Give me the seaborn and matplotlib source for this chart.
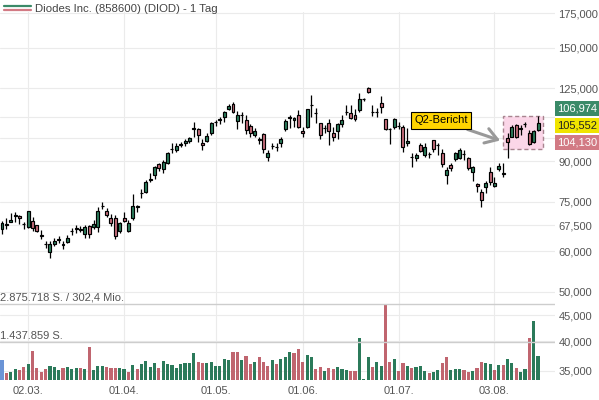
import numpy as np
import pandas as pd
import matplotlib
matplotlib.use("Agg")
import matplotlib.pyplot as plt
from matplotlib.lines import Line2D
from matplotlib.patches import Rectangle
from matplotlib.ticker import NullFormatter
import seaborn as sns

# --- data --------------------------------------------------------------------
title = "Diodes Inc. (858600) (DIOD) - 1 Tag"
first_day = "2026-02-20"
holidays = ["2026-04-03", "2026-05-25", "2026-07-03"]

open_ = [66.2, 67.8, 68.5, 70.3, 70.3, 67.9, 67.0, 68.7, 67.5, 64.6,
         62.1, 59.9, 62.1, 63.2, 61.8, 62.5, 65.8, 66.4, 66.1, 64.8,
         67.2, 66.9, 67.0, 73.5, 71.9, 69.8, 69.6, 65.8, 69.8, 65.8,
         69.6, 73.6, 77.9, 78.4, 82.8, 84.6, 88.7, 86.7, 89.4, 94.9,
         94.6, 97.0, 97.5, 98.5, 104.2, 103.9, 97.8, 98.7, 102.0, 107.2,
         108.5, 109.9, 114.0, 116.2, 108.0, 110.6, 108.3, 105.6, 101.4, 99.4,
         101.6, 91.8, 96.2, 96.1, 97.5, 103.9, 109.5, 108.3, 110.6, 103.1,
         104.8, 115.7, 112.0, 106.7, 104.5, 107.0, 102.3, 103.2, 106.2, 112.3,
         111.6, 110.8, 113.3, 118.8, 125.3, 112.5, 112.3, 116.8, 108.6, 104.0,
         104.8, 105.5, 105.1, 97.5, 91.7, 91.2, 96.8, 92.5, 93.0, 99.0,
         96.9, 93.5, 84.6, 88.5, 90.7, 91.2, 93.0, 91.2, 85.8, 81.2,
         78.4, 80.2, 85.8, 80.5, 86.7, 85.1, 99.7, 100.5, 105.9, 104.2,
         106.3, 102.3, 98.2, 103.5]
high = [68.7, 69.6, 71.2, 71.5, 70.6, 68.3, 72.0, 70.1, 67.6, 66.0,
        62.8, 62.8, 63.6, 64.3, 62.8, 64.6, 66.7, 67.5, 67.2, 67.5,
        67.5, 69.0, 73.3, 74.8, 72.8, 70.9, 70.6, 68.5, 71.5, 69.0,
        77.5, 74.0, 79.3, 82.7, 85.2, 88.1, 89.1, 90.4, 93.9, 97.5,
        97.8, 98.2, 99.3, 100.5, 107.2, 104.3, 99.3, 102.3, 107.2, 108.3,
        109.9, 112.9, 116.2, 117.3, 112.9, 112.1, 110.8, 106.2, 104.3, 100.5,
        102.0, 94.6, 97.8, 97.8, 100.2, 108.6, 110.8, 109.9, 113.3, 105.1,
        113.7, 121.2, 114.2, 107.0, 105.9, 108.6, 105.1, 106.7, 110.8, 115.9,
        115.9, 113.6, 122.1, 119.4, 125.8, 115.9, 114.2, 120.6, 108.8, 104.3,
        109.1, 107.5, 105.9, 104.3, 93.2, 93.5, 97.5, 97.5, 93.9, 99.0,
        97.5, 94.9, 87.8, 89.4, 93.9, 95.4, 94.6, 91.8, 88.1, 81.5,
        79.3, 82.4, 87.5, 83.9, 89.1, 89.1, 102.0, 105.9, 106.4, 105.9,
        107.5, 103.5, 103.5, 110.3]
low = [64.8, 66.2, 68.3, 68.3, 67.7, 66.2, 66.5, 65.7, 65.5, 63.4,
       60.8, 58.1, 61.5, 62.2, 60.6, 62.2, 64.6, 65.0, 65.3, 63.8,
       63.8, 66.2, 65.5, 72.6, 70.1, 67.3, 63.4, 65.0, 68.5, 65.5,
       69.0, 71.7, 76.1, 78.1, 82.0, 82.9, 86.2, 85.2, 88.9, 93.5,
       93.9, 95.8, 96.4, 97.5, 100.5, 98.2, 94.6, 98.0, 101.3, 105.6,
       106.2, 107.5, 113.3, 111.6, 103.9, 107.0, 101.6, 100.2, 100.5, 97.2,
       93.2, 90.2, 94.9, 94.3, 96.1, 103.2, 104.3, 105.1, 104.3, 100.2,
       104.3, 109.9, 107.0, 99.3, 102.3, 96.8, 98.7, 99.3, 105.1, 110.8,
       108.6, 108.0, 112.4, 118.1, 122.1, 110.3, 109.9, 111.6, 103.5, 97.2,
       103.9, 103.9, 93.9, 96.4, 87.5, 90.2, 93.9, 91.8, 91.2, 93.9,
       92.5, 87.8, 81.2, 86.2, 90.2, 90.7, 90.4, 86.5, 82.4, 78.4,
       73.3, 78.1, 80.8, 80.0, 86.2, 83.9, 91.3, 100.2, 99.7, 101.3,
       105.1, 96.8, 97.8, 103.3]
close = [68.0, 67.5, 69.0, 70.6, 69.6, 67.7, 71.9, 66.7, 65.8, 64.4,
         61.9, 62.0, 62.8, 63.4, 62.0, 63.8, 65.6, 66.6, 66.3, 66.9,
         64.8, 67.7, 71.9, 73.7, 70.6, 68.0, 64.3, 68.0, 68.8, 68.2,
         73.4, 73.3, 78.1, 81.9, 83.0, 87.8, 87.4, 89.8, 93.5, 95.1,
         96.4, 97.2, 98.5, 99.7, 104.4, 101.1, 96.7, 100.8, 106.7, 107.4,
         108.7, 112.1, 115.5, 112.4, 110.8, 111.0, 103.5, 102.0, 103.2, 99.2,
         94.9, 93.5, 96.4, 95.9, 99.3, 108.0, 109.7, 109.1, 105.1, 102.0,
         113.6, 115.9, 111.8, 101.3, 104.7, 103.2, 100.2, 106.4, 108.3, 112.5,
         109.4, 108.6, 118.9, 118.9, 122.7, 112.3, 112.5, 114.7, 103.9, 103.8,
         108.6, 105.3, 96.1, 98.5, 91.5, 92.5, 94.3, 95.8, 92.9, 94.9,
         96.7, 88.9, 86.5, 87.1, 93.5, 94.6, 92.9, 87.1, 87.5, 80.5,
         75.5, 81.5, 82.0, 81.7, 88.1, 85.3, 98.2, 105.1, 100.5, 104.4,
         106.5, 97.2, 103.2, 106.974]
volume = [757000, 276000, 314000, 405000, 378000, 481000, 605000, 1097000, 443000, 314000,
          405000, 518000, 503000, 390000, 443000, 481000, 416000, 443000, 443000, 405000,
          1237000, 367000, 541000, 530000, 492000, 443000, 454000, 465000, 428000, 303000,
          568000, 416000, 594000, 730000, 481000, 632000, 465000, 719000, 617000, 568000,
          465000, 605000, 632000, 632000, 1033000, 692000, 632000, 655000, 692000, 518000,
          530000, 783000, 757000, 1071000, 1048000, 757000, 908000, 594000, 692000, 859000,
          670000, 530000, 757000, 605000, 783000, 859000, 1048000, 1010000, 1162000, 692000,
          946000, 882000, 405000, 503000, 352000, 465000, 416000, 481000, 416000, 378000,
          341000, 341000, 1578000, 38000, 859000, 503000, 681000, 530000, 2875718, 692000,
          783000, 352000, 632000, 541000, 465000, 503000, 541000, 341000, 254000, 303000,
          367000, 632000, 870000, 367000, 405000, 405000, 367000, 303000, 341000, 443000,
          692000, 632000, 594000, 378000, 568000, 556000, 795000, 632000, 443000, 303000,
          416000, 1578000, 2233000, 908000]

turnover_label = "302,4 Mio."
report_label = "Q2-Bericht"
report_date = "2026-08-06"
price_tags = [106.974, 105.552, 104.130]
price_ticks = [35, 40, 45, 50, 60, 67.5, 75, 90, 125, 150, 175]
covered_ticks = [100, 110]

# --- colours ----------------------------------------------------------------
up_col, down_col = "#2d7f5e", "#c96f7d"
vol_palette = {"up": "#2b7a5a", "down": "#c0656f", "first": "#6b94d6"}
tag_colors = ["#3a8a68", "#f0e400", "#d27a84"]
tag_text = ["white", "#222222", "white"]
grid_col = "#ebebeb"
text_col = "#555555"


def de_price(v):
    return f"{v:.3f}".replace(".", ",")


def de_int(v):
    return f"{int(round(v)):,}".replace(",", ".")


sns.set_style("white")
plt.rcParams["font.family"] = ["Liberation Sans", "DejaVu Sans"]

dates = pd.bdate_range(first_day, periods=len(close), freq="C", holidays=holidays)
df = pd.DataFrame({"date": dates, "open": open_, "high": high, "low": low,
                   "close": close, "volume": volume})
df["pos"] = np.arange(len(df))
df["up"] = df["close"] >= df["open"]
chg = df["close"].diff()
df["trend"] = np.where(chg.isna(), "first", np.where(chg >= 0, "up", "down"))

fig = plt.figure(figsize=(5.99, 4.0), dpi=100)
rect = [0, 20 / 400, 555 / 599, 368 / 400]
ax = fig.add_axes(rect)
ax_vol = fig.add_axes(rect, sharex=ax)
ax_vol.patch.set_visible(False)

# volume bars
sns.barplot(data=df, x="pos", y="volume", hue="trend", palette=vol_palette,
            native_scale=True, width=0.72, dodge=False, legend=False,
            errorbar=None, saturation=1, linewidth=0, ax=ax_vol)
vmax = df["volume"].max()
ax_vol.set_ylim(0, vmax * 368 / 76)
for lvl, txt in [(vmax, f"{de_int(vmax)} S. / {turnover_label}"),
                 (vmax / 2, f"{de_int(vmax / 2)} S.")]:
    ax_vol.axhline(lvl, color="#cdcdcd", lw=1, zorder=1)
    ax_vol.annotate(txt, xy=(0, lvl), xycoords=("axes fraction", "data"),
                    xytext=(0, 6), textcoords="offset pixels", ha="left",
                    va="center", fontsize=8, color=text_col)
ax_vol.set_yticks([])
ax_vol.set_xlabel("")
ax_vol.set_ylabel("")
ax_vol.tick_params(axis="x", labelbottom=False, length=0)

# candles
body_lo = df[["open", "close"]].min(axis=1)
body_h = (df["open"] - df["close"]).abs()
colors = np.where(df["up"], up_col, down_col)
ax.vlines(df["pos"], df["low"], df["high"], color="black", lw=0.9, zorder=3)
ax.bar(df["pos"], body_h, bottom=body_lo, width=0.68, color=colors,
       edgecolor="black", linewidth=0.85, zorder=4)

ax.set_yscale("log")
ax.set_ylim(33.61, 176.1)
ax.set_xlim(-0.46, 126.89)

# report window
rep = int(df.index[df["date"] == pd.Timestamp(report_date)][0])
win = df.loc[rep:]
box_lo = win[["open", "close"]].min(axis=1).min() * 0.977
box_hi = win["high"].max()
ax.add_patch(Rectangle((rep - 0.95, box_lo), len(win) + 1.15, box_hi - box_lo,
                       facecolor="#fbd6e8", edgecolor="#a8848f", lw=1,
                       ls=(0, (3, 2)), zorder=2))
ax.annotate(report_label, xy=(rep - 1.7, box_lo * 1.04), xytext=(-59, 20),
            textcoords="offset pixels", ha="center", va="center", fontsize=8,
            color="black", zorder=6,
            bbox=dict(boxstyle="square,pad=0.32", fc="#ffd400", ec="black", lw=0.8),
            arrowprops=dict(arrowstyle="->,head_length=0.7,head_width=0.45",
                            color="#999999", lw=2.2, shrinkA=0, shrinkB=0,
                            mutation_scale=12))

# axes styling
ax.yaxis.tick_right()
ax.set_yticks(price_ticks, [de_price(t) for t in price_ticks])
ax.set_yticks(covered_ticks, minor=True)
ax.yaxis.set_minor_formatter(NullFormatter())
ax.tick_params(axis="y", which="both", length=0, pad=2.5, labelsize=8,
               colors=text_col)
month_pos = [i for i in range(1, len(df)) if df["date"][i].month != df["date"][i - 1].month]
ax.set_xticks(month_pos, [df["date"][i].strftime("%d.%m.") for i in month_pos])
ax.tick_params(axis="x", length=0, pad=4, labelsize=8, colors=text_col)
ax.grid(True, which="both", color=grid_col, lw=0.8)
ax.set_axisbelow(True)
for a in (ax, ax_vol):
    for s in a.spines.values():
        s.set_visible(False)

# price tags on the right
for v, fc, tc, dy in zip(price_tags, tag_colors, tag_text, [17, 0, -17]):
    ax.annotate(de_price(v), xy=(1, price_tags[1]), xycoords=("axes fraction", "data"),
                xytext=(2.5, dy), textcoords="offset pixels", ha="left", va="center",
                fontsize=8, color=tc, annotation_clip=False, zorder=7,
                bbox=dict(boxstyle="square,pad=0.22", fc=fc, ec="none"))

# title with legend key
fig.add_artist(Line2D([4 / 599, 31 / 599], [1 - 5.5 / 400] * 2, color=tag_colors[0],
                      lw=1.6, transform=fig.transFigure))
fig.add_artist(Line2D([4 / 599, 31 / 599], [1 - 10 / 400] * 2, color=tag_colors[2],
                      lw=1.6, transform=fig.transFigure))
fig.text(35 / 599, 1 - 8.5 / 400, title, ha="left", va="center", fontsize=8.2,
         color="#444444")

fig.savefig("out.png", dpi=100)
